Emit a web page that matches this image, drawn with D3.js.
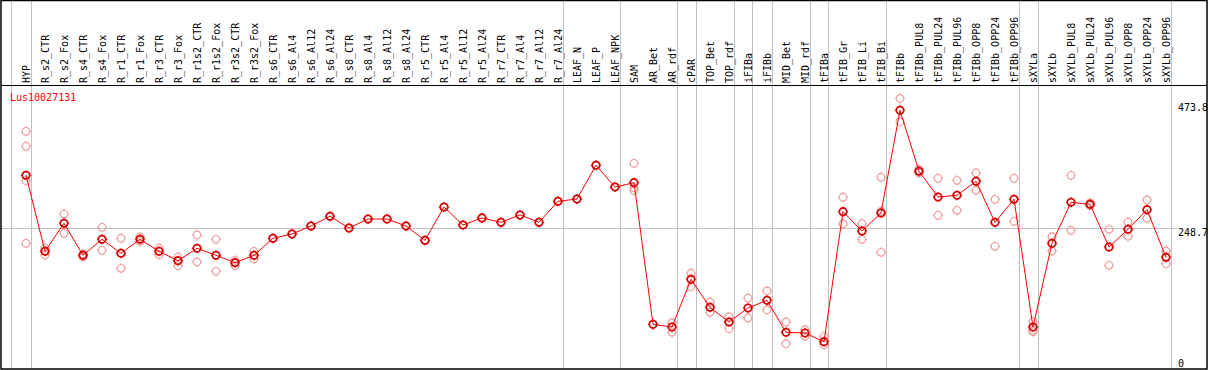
<!DOCTYPE html>
<html>
<head>
<meta charset="utf-8">
<script src="https://cdn.jsdelivr.net/npm/d3@7"></script>
<style>
  body { margin: 0; background: #fff; }
  svg { display: block; }
  text { font-family: "DejaVu Sans Mono", monospace; font-size: 10px; }
</style>
</head>
<body>
<svg id="chart" width="1209" height="370"></svg>
<script>
// sample names (one column each)
const sampleNames = [
    "HYP", "R_s2_CTR", "R_s2_Fox", "R_s4_CTR", "R_s4_Fox", "R_r1_CTR", "R_r1_Fox",
    "R_r3_CTR", "R_r3_Fox", "R_r1s2_CTR", "R_r1s2_Fox", "R_r3s2_CTR", "R_r3s2_Fox",
    "R_s6_CTR", "R_s6_Al4", "R_s6_Al12", "R_s6_Al24", "R_s8_CTR", "R_s8_Al4", "R_s8_Al12",
    "R_s8_Al24", "R_r5_CTR", "R_r5_Al4", "R_r5_Al12", "R_r5_Al24", "R_r7_CTR", "R_r7_Al4",
    "R_r7_Al12", "R_r7_Al24", "LEAF_N", "LEAF_P", "LEAF_NPK", "SAM", "AR_Bet", "AR_rdf",
    "cPAR", "TOP_Bet", "TOP_rdf", "iFIBa", "iFIBb", "MID_Bet", "MID_rdf", "tFIBa",
    "tFIB_Gr", "tFIB_Li", "tFIB_Bi", "tFIBb", "tFIBb_PUL8", "tFIBb_PUL24", "tFIBb_PUL96",
    "tFIBb_OPP8", "tFIBb_OPP24", "tFIBb_OPP96", "sXYLa", "sXYLb", "sXYLb_PUL8",
    "sXYLb_PUL24", "sXYLb_PUL96", "sXYLb_OPP8", "sXYLb_OPP24", "sXYLb_OPP96"
];

// mean expression per sample
const meanValues = [
    340.6, 208.8, 257.4, 201.9, 229.6, 205.3, 229.6, 208.8, 192.5, 214.0, 201.9, 189.0, 201.9,
    231.4, 238.8, 252.7, 269.5, 249.2, 264.8, 264.8, 252.7, 227.9, 285.6, 254.4, 266.6,
    259.1, 271.8, 259.1, 295.5, 299.5, 358.0, 320.3, 327.8, 82.2, 77.5, 160.2, 111.7,
    86.2, 110.5, 123.8, 68.3, 67.1, 52.0, 277.5, 244.0, 275.2, 453.3, 347.6, 303.0,
    305.9, 330.2, 259.1, 299.0, 77.5, 222.7, 293.8, 290.3, 216.3, 247.0, 281.0, 198.4
];

// individual replicates per sample
const replicateValues = [
    [416.9, 390.9, 331.3, 222.7], [214.5, 209.3, 202.4], [273.5, 240.0], [204.1, 198.9],
    [250.4, 210.5], [231.4, 179.3], [233.6, 225.8], [214.5, 202.9], [198.9, 183.8],
    [237.1, 190.3], [229.6, 174.1], [193.2, 183.8], [208.8, 195.5],
    [231.4], [238.8], [252.7], [269.5], [249.2], [264.8], [264.8], [252.7], [227.9],
    [285.6], [254.4], [266.6], [259.1], [271.8], [259.1], [295.5], [299.5], [358.0], [320.3],
    [361.4, 318.6, 313.9], [82.2], [85.0, 68.3], [170.7, 147.4], [120.9, 103.0],
    [95.4, 74.6], [127.8, 93.1], [140.0, 107.0], [86.2, 48.6], [72.8, 61.4], [61.4, 46.8],
    [302.5, 256.2], [256.7, 229.6], [337.2, 278.2, 207.1], [473.8, 433.6], [351.0, 344.6],
    [335.4, 271.2], [331.9, 279.9], [344.6, 314.6], [299.0, 217.5], [335.4, 260.8],
    [87.4, 71.8, 69.4], [234.1, 209.3], [340.6, 245.2], [292.6, 287.9], [247.0, 184.5],
    [259.6, 234.8], [297.8, 266.0], [209.3, 187.3]
];

// index of the last sample of each group (a separator follows it)
const groupEnds = [-1, 0, 28, 31, 34, 35, 37, 38, 39, 41, 42, 45, 52, 53, 60];
const axisTicks = [473.8, 248.7, 0];
const midValue = 248.7;
const geneId = "Lus10027131";

const headerBottom = 85, plotBottom = 369, rightEdge = 1207;
const svg = d3.select("#chart");

const x = d3.scaleLinear().domain([0, sampleNames.length - 1]).range([26, 1166]);
const y = d3.scaleLinear().domain([0, 473.8]).range([371.7, 98.5]);

// group separators (gray, full height)
svg.append("g").selectAll("line")
    .data(groupEnds)
    .join("line")
    .attr("x1", d => Math.round(x(d) + 4.5) + 0.5)
    .attr("x2", d => Math.round(x(d) + 4.5) + 0.5)
    .attr("y1", 0).attr("y2", plotBottom)
    .attr("stroke", "#c0c0c0").attr("stroke-width", 1);

// horizontal reference line
svg.append("line")
    .attr("x1", 1).attr("x2", 1177)
    .attr("y1", Math.round(y(midValue)) + 0.5).attr("y2", Math.round(y(midValue)) + 0.5)
    .attr("stroke", "#c0c0c0").attr("stroke-width", 1);

// header labels, rotated
svg.append("g").selectAll("text")
    .data(sampleNames)
    .join("text")
    .attr("transform", (d, i) => `translate(${x(i)},83) rotate(-90)`)
    .attr("dy", "0.35em")
    .attr("fill", "#000")
    .text(d => d);

// frame and header separator
svg.append("rect")
    .attr("x", 1).attr("y", 0.5)
    .attr("width", rightEdge - 1).attr("height", plotBottom - 0.5)
    .attr("fill", "none").attr("stroke", "#000").attr("stroke-width", 1.5);
svg.append("line")
    .attr("x1", 1).attr("x2", rightEdge)
    .attr("y1", headerBottom + 0.5).attr("y2", headerBottom + 0.5)
    .attr("stroke", "#000").attr("stroke-width", 1);

// gene id
svg.append("text")
    .attr("x", 10).attr("y", 101)
    .attr("fill", "#ff0000")
    .text(geneId);

// right axis labels
svg.append("g").selectAll("text")
    .data(axisTicks)
    .join("text")
    .attr("x", 1178)
    .attr("y", d => Math.max(103, Math.min(359, y(d))) + 8)
    .attr("fill", "#000")
    .text(d => d);

function drawMarker(g, r, color, width) {
    g.append("circle").attr("r", r)
        .attr("fill", "none").attr("stroke", color).attr("stroke-width", width);
    [[0, -1], [0, 1], [-1, 0], [1, 0]].forEach(([dx, dy]) => {
        g.append("line")
            .attr("x1", dx * r).attr("y1", dy * r)
            .attr("x2", dx * (r + 1.3)).attr("y2", dy * (r + 1.3))
            .attr("stroke", color).attr("stroke-width", 1);
    });
}

// replicates
const reps = [];
replicateValues.forEach((vals, i) => vals.forEach(v => reps.push({ i, v })));
svg.append("g").selectAll("g")
    .data(reps)
    .join("g")
    .attr("transform", d => `translate(${x(d.i)},${y(d.v)})`)
    .each(function () { drawMarker(d3.select(this), 3.8, "#f0a0a0", 1.2); });

// mean line
svg.append("path")
    .datum(meanValues)
    .attr("fill", "none")
    .attr("stroke", "#ff0000")
    .attr("stroke-width", 1)
    .attr("d", d3.line().x((d, i) => x(i)).y(d => y(d)));

// mean markers
svg.append("g").selectAll("g")
    .data(meanValues)
    .join("g")
    .attr("transform", (d, i) => `translate(${x(i)},${y(d)})`)
    .each(function () {
        const g = d3.select(this);
        drawMarker(g, 3.8, "#ff0000", 1.6);
        g.append("circle").attr("r", 3.4)
            .attr("fill", "none").attr("stroke", "#600000").attr("stroke-width", 0.5);
    });
</script>
</body>
</html>
